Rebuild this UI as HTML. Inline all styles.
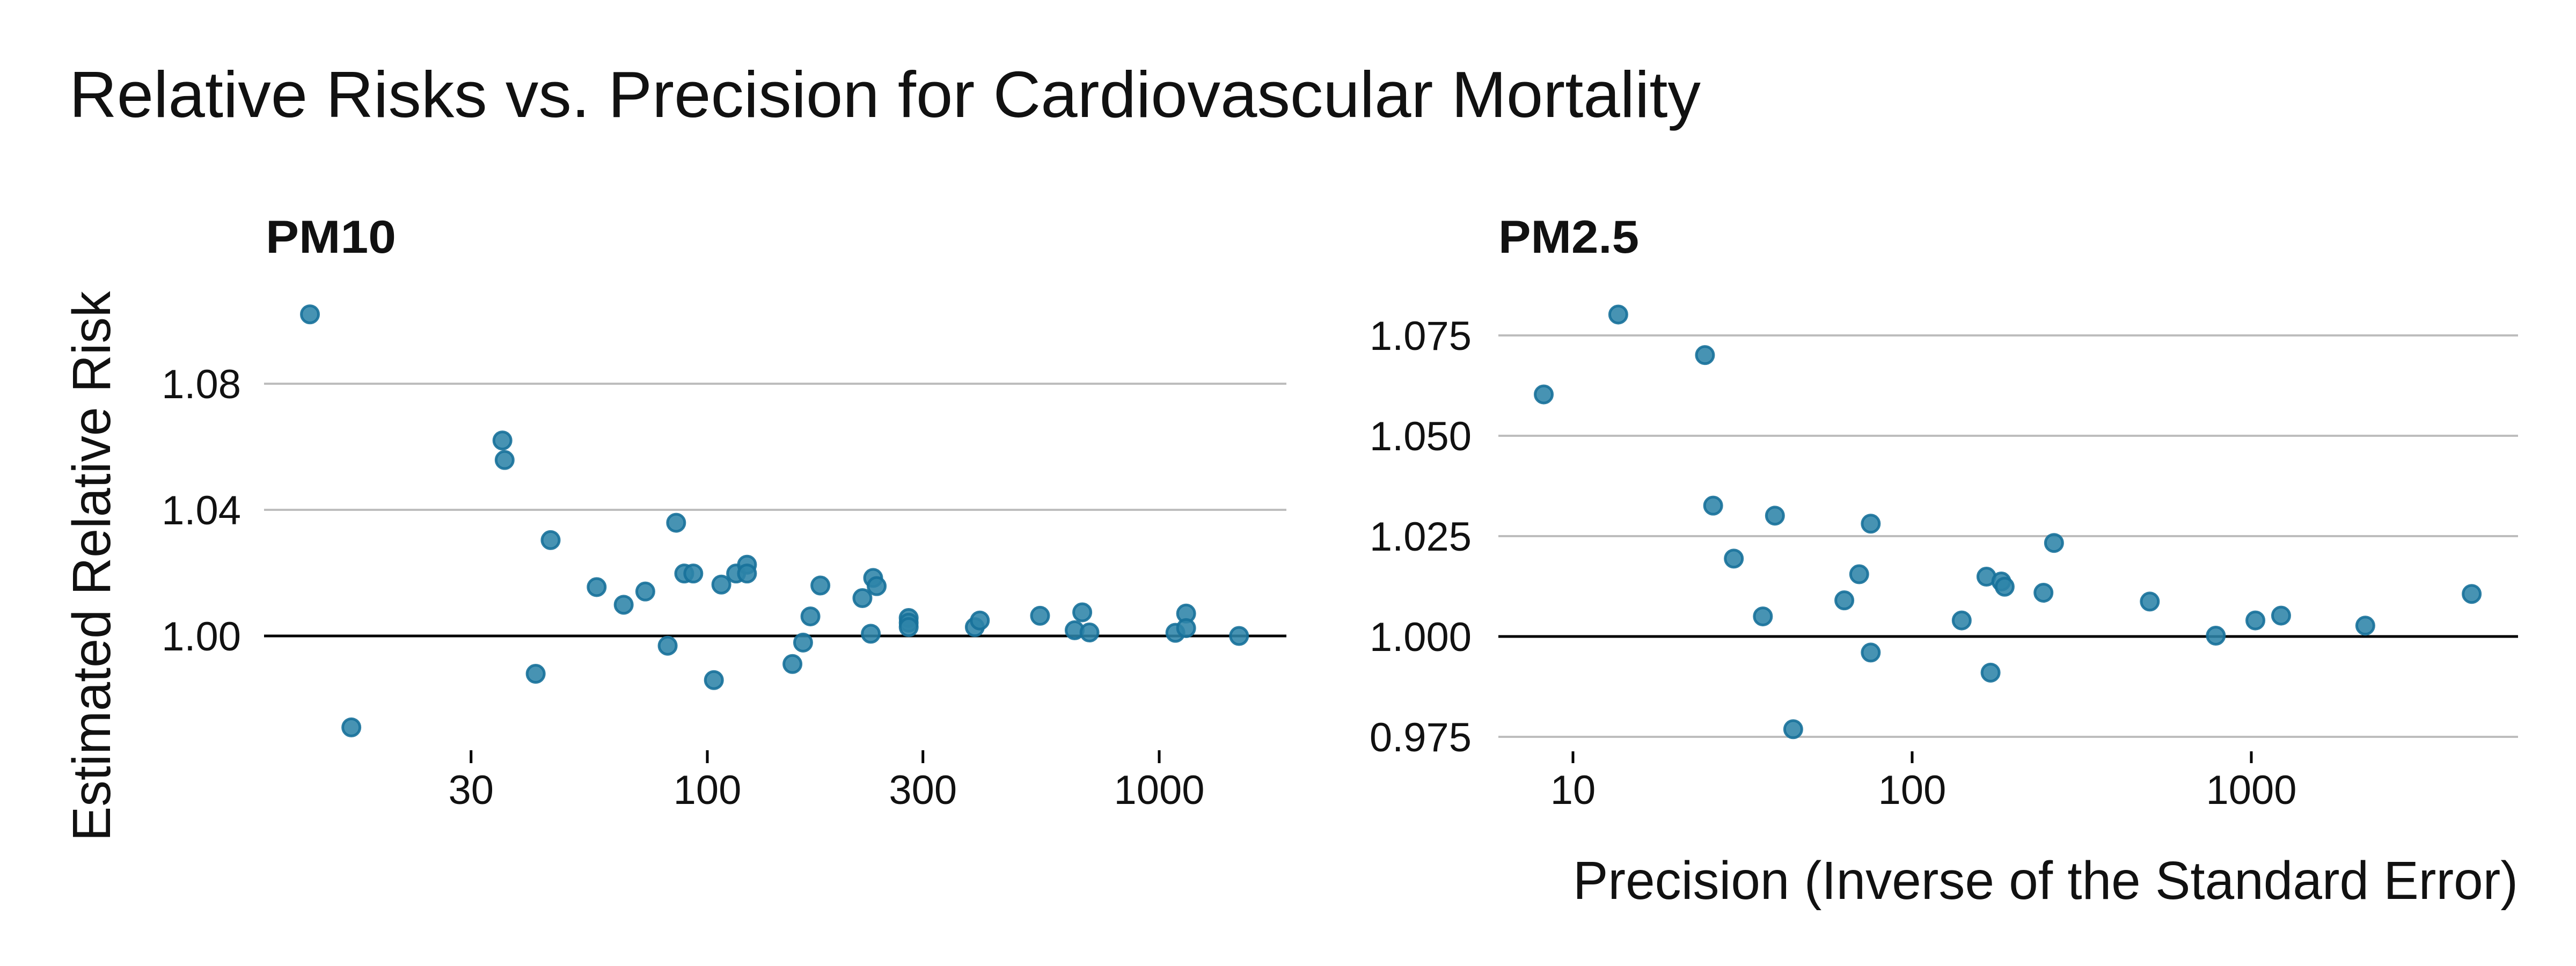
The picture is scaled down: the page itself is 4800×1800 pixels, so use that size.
<!DOCTYPE html>
<html><head><meta charset="utf-8"><style>
html,body{margin:0;padding:0;background:#fff}
svg{display:block}
text{font-family:"Liberation Sans",sans-serif;fill:#111}
</style></head><body>
<svg id="chart" width="4800" height="1800" viewBox="0 0 4800 1800" xmlns="http://www.w3.org/2000/svg">
<text x="129" y="218" font-size="122" textLength="3040" lengthAdjust="spacingAndGlyphs">Relative Risks vs. Precision for Cardiovascular Mortality</text>
<text x="495" y="471" font-size="86" font-weight="bold" textLength="243" lengthAdjust="spacingAndGlyphs">PM10</text>
<text x="2792" y="471" font-size="86" font-weight="bold" textLength="262" lengthAdjust="spacingAndGlyphs">PM2.5</text>
<text transform="translate(205,1055) rotate(-90)" text-anchor="middle" font-size="100" textLength="1025" lengthAdjust="spacingAndGlyphs">Estimated Relative Risk</text>
<text x="2931" y="1675" font-size="100" textLength="1761" lengthAdjust="spacingAndGlyphs">Precision (Inverse of the Standard Error)</text>
<g id="p1"></g>
<g id="p2"></g>
</svg>
<script>
const pm10Precision=[13.2,16.3,35.2,35.6,45.0,41.7,56.9,65.3,72.9,81.7,85.3,88.9,93.1,103.4,107.4,115.8,122.4,122.4,154.3,162.9,169.1,177.9,220.4,230,232.8,237,279,279,279,390.8,400.9,544.9,650,675.6,701,1086,1147,1147,1502];
const pm10RR=[1.102,0.971,1.062,1.0558,1.0304,0.988,1.0155,1.0099,1.0141,0.9969,1.0359,1.0198,1.0198,0.986,1.0163,1.0198,1.0226,1.0198,0.9911,0.9979,1.0062,1.016,1.012,1.0007,1.0184,1.0158,1.0057,1.0042,1.0028,1.0028,1.0049,1.0064,1.0018,1.0075,1.0011,1.001,1.0071,1.0025,1.000];
const pm10YTicks=[1.00,1.04,1.08];
const pm10YLabels=["1.00","1.04","1.08"];
const pm10XTicks=[30,100,300,1000];
const pm25Precision=[8.2,13.6,24.5,25.9,29.8,36.3,39.4,44.6,63.1,69.8,75.5,75.5,140,165.6,170.3,183.2,187.4,243.9,262,502,785.8,1028,1224,2168,4464];
const pm25RR=[1.0603,1.0802,1.0701,1.0326,1.0194,1.005,1.0301,0.9769,1.009,1.0155,1.0281,0.996,1.004,1.0149,0.991,1.0137,1.0124,1.0109,1.0233,1.0087,1.0002,1.004,1.0052,1.0027,1.0106];
const pm25YTicks=[0.975,1.000,1.025,1.050,1.075];
const pm25YLabels=["0.975","1.000","1.025","1.050","1.075"];
const pm25XTicks=[10,100,1000];

const NS="http://www.w3.org/2000/svg";
function mk(parent,tag,attrs){const e=document.createElementNS(NS,tag);for(const k in attrs)e.setAttribute(k,attrs[k]);parent.appendChild(e);return e;}

function panel(g,cfg,xs,ys,yt,yl,xt,prefix){
  const xScale=v=>cfg.x100+(Math.log10(v)-2)*cfg.dec;
  const yScale=v=>cfg.y1-(v-1)*cfg.pxPerUnit;
  yt.forEach((t,i)=>{
    const y=yScale(t);
    const l=mk(g,'line',{x1:cfg.gx0,x2:cfg.gx1,y1:y,y2:y,stroke:t===1?'#000':'#bdbdbd','stroke-width':t===1?5:4});
    
    
    const tx=mk(g,'text',{x:cfg.lblX,y:y+27,'text-anchor':'end','font-size':76});
    tx.textContent=yl[i];
    
    
  });
  xt.forEach(t=>{
    const x=xScale(t);
    const tk=mk(g,'line',{x1:x,x2:x,y1:cfg.tickY0,y2:cfg.tickY1,stroke:'#000','stroke-width':5});
    
    
    const tx=mk(g,'text',{x:x,y:1498,'text-anchor':'middle','font-size':76});
    tx.textContent=String(t);
    
    
  });
  xs.forEach((v,i)=>{
    const c=mk(g,'circle',{cx:xScale(v),cy:yScale(ys[i]),r:16,fill:'#2d84a8','fill-opacity':0.88,stroke:'#17719a','stroke-opacity':0.9,'stroke-width':5});
    
    
  });
}
panel(document.getElementById('p1'),{x100:1318,dec:842,y1:1185,pxPerUnit:235/0.04,gx0:492,gx1:2397,lblX:449,tickY0:1398,tickY1:1422},pm10Precision,pm10RR,pm10YTicks,pm10YLabels,pm10XTicks,'pm10');
panel(document.getElementById('p2'),{x100:3563,dec:632,y1:1186,pxPerUnit:187/0.025,gx0:2792,gx1:4692,lblX:2742,tickY0:1400,tickY1:1422},pm25Precision,pm25RR,pm25YTicks,pm25YLabels,pm25XTicks,'pm25');
</script>
</body></html>
